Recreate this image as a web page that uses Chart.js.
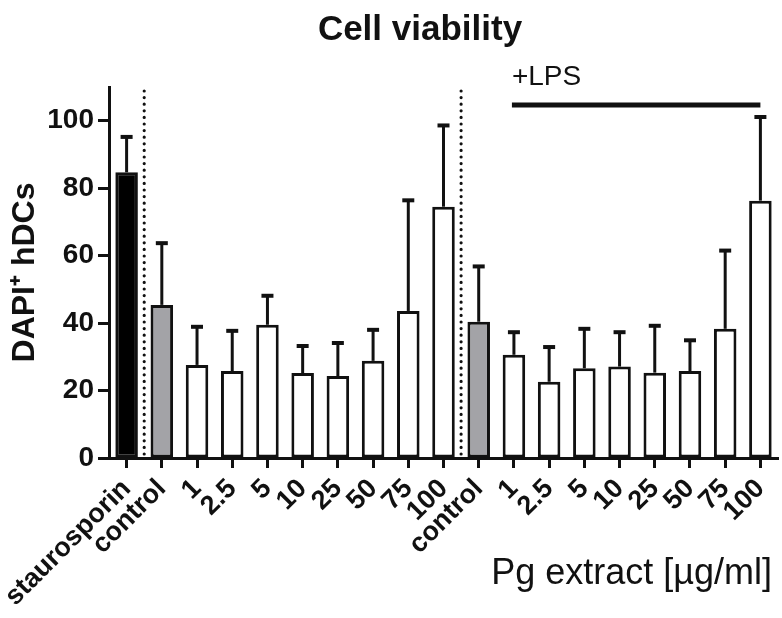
<!DOCTYPE html>
<html>
<head>
<meta charset="utf-8">
<script src="https://cdn.jsdelivr.net/npm/chart.js@4.4.0/dist/chart.umd.min.js"></script>
<style>
  html, body { margin: 0; padding: 0; background: #fff; }
  #wrap { width: 782px; height: 618px; position: relative; }
</style>
</head>
<body>
<div id="wrap"><canvas id="grafico"></canvas></div>
<script>
// Categorías del eje X
const categorias = ["staurosporin", "control", "1", "2.5", "5", "10", "25", "50", "75", "100",
  "control", "1", "2.5", "5", "10", "25", "50", "75", "100"];

// Medias (% DAPI+ hDCs)
const medias = [84.7, 45.4, 27.6, 25.8, 39.5, 25.2, 24.3, 28.8, 43.6, 74.5,
  40.4, 30.6, 22.6, 26.6, 27.1, 25.3, 25.8, 38.3, 76.3];

// Extremo superior de la barra de error
const errSup = [95.2, 63.7, 38.9, 37.7, 48.1, 33.2, 34.1, 38.0, 76.4, 98.6,
  56.8, 37.3, 32.9, 38.3, 37.3, 39.2, 34.9, 61.5, 101.1];

// Ticks del eje Y
const ticksY = [0, 20, 40, 60, 80, 100];

const colores = categorias.map((c, i) => i === 0 ? "#000000" : (c === "control" ? "#a3a3a7" : "#ffffff"));
const tinta = "#111111";

// Plugin: barras de error, líneas punteadas, +LPS y textos
const extras = {
  id: "extras",
  afterDatasetsDraw(chart) {
    const { ctx, chartArea } = chart;
    const x = chart.scales.x;
    const y = chart.scales.y;
    ctx.save();

    // barras de error (solo hacia arriba)
    ctx.strokeStyle = tinta;
    errSup.forEach((v, i) => {
      const cx = x.getPixelForValue(i);
      const yTop = y.getPixelForValue(v);
      const yBar = y.getPixelForValue(medias[i]);
      ctx.lineWidth = 3;
      ctx.beginPath();
      ctx.moveTo(cx, yBar);
      ctx.lineTo(cx, yTop);
      ctx.stroke();
      ctx.lineWidth = 4;
      ctx.beginPath();
      ctx.moveTo(cx - 6, yTop);
      ctx.lineTo(cx + 6, yTop);
      ctx.stroke();
    });

    // líneas punteadas separadoras
    ctx.lineWidth = 3.2;
    ctx.lineCap = "round";
    ctx.setLineDash([0, 6.6]);
    [[0, 1], [9, 10]].forEach(([a, b]) => {
      const sx = (x.getPixelForValue(a) + x.getPixelForValue(b)) / 2;
      ctx.beginPath();
      ctx.moveTo(sx, chartArea.bottom - 4);
      ctx.lineTo(sx, chartArea.top);
      ctx.stroke();
    });
    ctx.setLineDash([]);
    ctx.lineCap = "butt";

    // línea +LPS
    const x1 = x.getPixelForValue(11) - 2;
    const x2 = x.getPixelForValue(18);
    ctx.lineWidth = 5;
    ctx.beginPath();
    ctx.moveTo(x1, 105);
    ctx.lineTo(x2, 105);
    ctx.stroke();

    ctx.fillStyle = tinta;
    ctx.textBaseline = "alphabetic";
    ctx.textAlign = "left";
    ctx.font = "28px 'Liberation Sans', Arial, sans-serif";
    ctx.fillText("+LPS", x1, 85);

    // título
    ctx.textAlign = "center";
    ctx.font = "bold 35px 'Liberation Sans', Arial, sans-serif";
    ctx.fillText("Cell viability", 420, 40);

    // título eje X
    ctx.textAlign = "right";
    ctx.font = "36px 'Liberation Sans', Arial, sans-serif";
    ctx.fillText("Pg extract [\u00b5g/ml]", 772, 584);
    ctx.restore();
  }
};

const chart = new Chart(document.getElementById("grafico"), {
  type: "bar",
  data: {
    labels: categorias,
    datasets: [{
      data: medias,
      backgroundColor: colores,
      borderColor: tinta,
      borderWidth: 3,
      borderSkipped: false,
      barPercentage: 0.64,
      categoryPercentage: 1
    }]
  },
  options: {
    responsive: true,
    maintainAspectRatio: false,
    animation: false,
    layout: { padding: { top: 87, right: 4, left: 0, bottom: 0 } },
    plugins: {
      legend: { display: false },
      tooltip: { enabled: false },
      title: { display: false }
    },
    scales: {
      x: {
        offset: true,
        afterFit(scale) {
          scale.height = 160;
          scale.paddingLeft = 0;
          scale.paddingRight = 0;
        },
        border: { display: true, color: tinta, width: 3 },
        grid: { display: true, drawOnChartArea: false, drawTicks: true, tickLength: 10, tickWidth: 3, color: tinta, offset: false },
        ticks: {
          color: tinta,
          autoSkip: false,
          maxRotation: 45,
          minRotation: 45,
          padding: 5,
          font: { family: "'Liberation Sans', Arial, sans-serif", size: 27, weight: "bold" }
        }
      },
      y: {
        min: 0,
        max: 110,
        afterFit(scale) {
          scale.width = 109;
          scale.paddingTop = 0;
          scale.paddingBottom = 0;
        },
        afterBuildTicks(scale) { scale.ticks = ticksY.map(v => ({ value: v })); },
        border: { display: true, color: tinta, width: 3 },
        grid: { display: true, drawOnChartArea: false, drawTicks: true, tickLength: 11, tickWidth: 3, color: tinta },
        ticks: {
          color: tinta,
          padding: 4,
          font: { family: "'Liberation Sans', Arial, sans-serif", size: 28, weight: "bold" }
        },
        title: {
          display: true,
          text: "DAPI\u207a hDCs",
          color: tinta,
          padding: { top: 6, bottom: 0 },
          font: { family: "'Liberation Sans', Arial, sans-serif", size: 32, weight: "bold" }
        }
      }
    }
  },
  plugins: [extras]
});
</script>
</body>
</html>
